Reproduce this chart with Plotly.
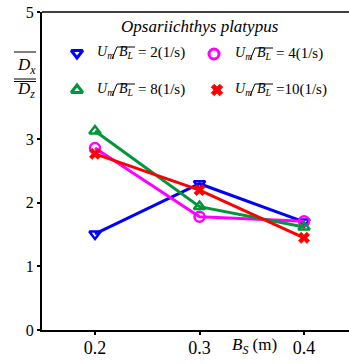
import plotly.graph_objects as go

# ---- data ----
bs = [0.2, 0.3, 0.4]
rate_2 = [1.51, 2.30, 1.70]
rate_4 = [2.86, 1.78, 1.71]
rate_8 = [3.13, 1.94, 1.62]
rate_10 = [2.77, 2.20, 1.45]
series_rates = ["2", "4", "8", "10"]
x_ticks = [0.2, 0.3, 0.4]
x_tick_text = ["0.2", "0.3", "0.4"]
y_ticks = [0, 1, 2, 3, 5]
title_text = "Opsariichthys platypus"

W, H = 349, 364
ML, MR, MT, MB = 42, 0, 12, 34
PW, PH = W - ML - MR, H - MT - MB
FONT = "Times New Roman, Liberation Serif, Tinos, Nimbus Roman, DejaVu Serif, serif"
LFS = 14  # legend font size


def px(x):
    return (x - ML) / PW


def py(y):
    return (H - MB - y) / PH


styles = [
    dict(data=rate_2, color="#0000FF", symbol="triangle-down-open", lw=2.5, size=10),
    dict(data=rate_4, color="#FF00FF", symbol="circle-open", lw=2.5, size=10),
    dict(data=rate_8, color="#009639", symbol="triangle-up-open", lw=2.5, size=10),
    dict(data=rate_10, color="#FF0000", symbol="x", lw=0.5, size=10),
]

fig = go.Figure()
for s, r in zip(styles, series_rates):
    fig.add_trace(go.Scatter(
        x=bs, y=s["data"], mode="lines+markers",
        line=dict(color=s["color"], width=3),
        marker=dict(symbol=s["symbol"], size=s["size"], color=s["color"],
                    line=dict(color=s["color"], width=s["lw"])),
        showlegend=False, cliponaxis=False, name=r,
    ))

# ---- manual legend ----
leg_pos = [(77, 53, 96), (214, 54, 234), (77, 90, 96), (217, 90, 234)]
annotations = []
shapes = []
for s, r, (mx, my, tx) in zip(styles, series_rates, leg_pos):
    fig.add_trace(go.Scatter(
        x=[px(mx)], y=[py(my)], xaxis="x2", yaxis="y2", mode="markers",
        marker=dict(symbol=s["symbol"], size=s["size"], color=s["color"],
                    line=dict(color=s["color"], width=s["lw"] + 0.5)),
        showlegend=False, cliponaxis=False, hoverinfo="skip",
    ))
    annotations.append(dict(
        x=px(tx), y=py(my), xref="paper", yref="paper", xanchor="left", yanchor="middle",
        text="<i>U</i><sub><i>m</i></sub>", showarrow=False,
        font=dict(family=FONT, size=LFS, color="black"), borderpad=0))
    annotations.append(dict(
        x=px(tx + 22), y=py(my), xref="paper", yref="paper", xanchor="left", yanchor="middle",
        text="<i>B</i><sub><i>L</i></sub>", showarrow=False,
        font=dict(family=FONT, size=LFS, color="black"), borderpad=0))
    eq = "= " + r + "(1/s)" if len(r) == 1 else "=" + r + "(1/s)"
    annotations.append(dict(
        x=px(tx + 41), y=py(my), xref="paper", yref="paper", xanchor="left", yanchor="middle",
        text=eq, showarrow=False,
        font=dict(family=FONT, size=LFS + 1, color="black"), borderpad=0))
    shapes.append(dict(
        type="path", xref="paper", yref="paper",
        path="M {} {} L {} {} L {} {}".format(px(tx + 16), py(my + 6), px(tx + 21), py(my - 6),
                                               px(tx + 39), py(my - 6)),
        line=dict(color="black", width=1)))

# title
annotations.append(dict(
    x=px(200), y=py(27), xref="paper", yref="paper", xanchor="center", yanchor="middle",
    text="<i>" + title_text + "</i>", showarrow=False,
    font=dict(family=FONT, size=17, color="black")))

# y-axis label: overline(D_x) / overline(D_z)
annotations.append(dict(
    x=px(26), y=py(66), xref="paper", yref="paper", xanchor="center", yanchor="middle",
    text="<i>D</i><sub><i>x</i></sub>", showarrow=False,
    font=dict(family=FONT, size=17, color="black"), borderpad=0))
annotations.append(dict(
    x=px(26), y=py(90), xref="paper", yref="paper", xanchor="center", yanchor="middle",
    text="<i>D</i><sub><i>z</i></sub>", showarrow=False,
    font=dict(family=FONT, size=17, color="black"), borderpad=0))
for yy in (52, 79, 81.5):
    shapes.append(dict(type="line", xref="paper", yref="paper",
                       x0=px(14), x1=px(36), y0=py(yy), y1=py(yy),
                       line=dict(color="black", width=1)))

# x-axis title B_S (m)
annotations.append(dict(
    x=px(231), y=py(346), xref="paper", yref="paper", xanchor="left", yanchor="middle",
    text="<i>B</i><sub><i>S</i></sub> (m)", showarrow=False,
    font=dict(family=FONT, size=17, color="black"), borderpad=0))

# top border line
shapes.append(dict(type="line", xref="paper", yref="paper", x0=0, x1=1, y0=1, y1=1,
                   line=dict(color="black", width=1.5)))

fig.update_layout(
    width=W, height=H,
    margin=dict(l=ML, r=MR, t=MT, b=MB, autoexpand=False),
    paper_bgcolor="white", plot_bgcolor="white",
    showlegend=False,
    font=dict(family=FONT, color="black"),
    xaxis=dict(range=[0.1493, 0.443], tickvals=x_ticks, ticktext=x_tick_text,
               automargin=False,
               showgrid=False, zeroline=False, showline=True, linecolor="black", linewidth=2,
               ticks="outside", ticklen=3, tickwidth=1.5, tickcolor="black",
               ticklabelstandoff=-3,
               tickfont=dict(family=FONT, size=18, color="black")),
    yaxis=dict(range=[0, 5], tickvals=y_ticks,
               automargin=False,
               showgrid=False, zeroline=False, showline=True, linecolor="black", linewidth=2,
               ticks="outside", ticklen=3, tickwidth=1.5, tickcolor="black",
               tickfont=dict(family=FONT, size=16, color="black")),
    xaxis2=dict(range=[0, 1], overlaying="x", visible=False, fixedrange=True),
    yaxis2=dict(range=[0, 1], overlaying="y", visible=False, fixedrange=True),
    annotations=annotations,
    shapes=shapes,
)

fig.write_html("out.html", config={"displayModeBar": False},
               post_script="document.body.style.margin='0';document.body.style.overflow='hidden';")
